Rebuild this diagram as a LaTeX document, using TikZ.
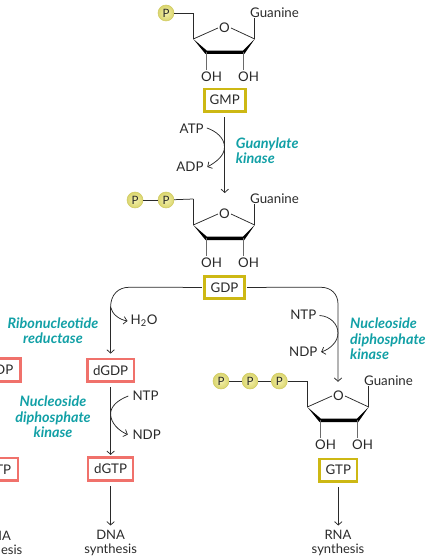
\documentclass[tikz,border=0pt]{standalone}
\usepackage{fontspec}
\setmainfont{Lato}
\usetikzlibrary{arrows.meta}
\definecolor{boxyellow}{HTML}{CDB814}
\definecolor{boxred}{HTML}{F0716B}
\definecolor{teal1}{HTML}{12A0A6}
\definecolor{ink}{HTML}{2A2A2A}
\definecolor{ballin}{HTML}{F4F1AC}
\definecolor{ballout}{HTML}{DAD56E}
\definecolor{ballrim}{HTML}{CFC95F}
\tikzset{
  every node/.style={text=ink,font=\fontsize{13.3}{15}\selectfont,inner sep=0pt},
  ln/.style={draw=ink,line width=0.75pt},
  arr/.style={ln,-{Straight Barb[length=3.4pt,width=7.5pt,line width=0.75pt]}},
  ybox/.style={draw=boxyellow,line width=2.6pt,fill=white,minimum height=22.4pt},
  rbox/.style={draw=boxred,line width=2.6pt,fill=white,minimum height=22.6pt},
  enz/.style={text=teal1,font=\fontsize{14.4}{15.4}\selectfont\bfseries\itshape,align=center},
  enzl/.style={enz,align=left,anchor=west},
  phos/.style={circle,minimum size=16pt,draw=ballrim,line width=0.5pt,inner color=ballin,outer color=ballout,font=\fontsize{11.5}{12}\selectfont},
  lab/.style={align=center,font=\fontsize{13}{14}\selectfont},
}
% #1 prefix, #2 dx, #3 dy
\newcommand{\sugar}[3]{%
  \begin{scope}[shift={(#2,#3)}]
    \node (#1O) at (224.5,28) {O};
    \coordinate (#1L) at (193.3,39);
    \coordinate (#1R) at (254.7,39);
    \coordinate (#1BL) at (206.5,52.3);
    \coordinate (#1BR) at (243.3,52.3);
    \coordinate (#1T) at (193.3,13);
    \node[anchor=west] (#1G) at (250,12.5) {Guanine};
    \node (#1OH1) at (211.5,77) {OH};
    \node (#1OH2) at (248.5,77) {OH};
    \draw[ln] (#1L) -- ([xshift=-1pt]#1O.west);
    \draw[ln] ([xshift=1pt]#1O.east) -- (#1R);
    \draw[ln] (#1L) -- (#1T);
    \draw[ln] (#1R) -- (254.7,18);
    \fill[black] (#1L) -- (205.5,54) -- (244.3,54) -- (#1R) -- (243,50.6) -- (206.8,50.6) -- cycle;
    \draw[ln,draw=ink!70] (#1BL) -- (206.5,70);
    \draw[ln,draw=ink!70] (#1BR) -- (243.3,70);
  \end{scope}}
\begin{document}
\begin{tikzpicture}[x=1pt,y=-1pt]
\useasboundingbox (0,0) rectangle (430,559);
% GMP
\sugar{a}{0}{0}
\node[phos] (p1) at (166,13) {P};
\draw[ln] (p1) -- (aT);
\node[ybox,minimum width=41pt] (gmp) at (224.75,100.2) {GMP};
\node (atp) at (191.7,129) {ATP};
\node (adp) at (190,167) {ADP};
\coordinate (e1) at (224.75,193);
\draw[arr,shorten <=4.5pt] (gmp.south) -- (e1);
\draw[arr] ([xshift=3pt,yshift=1pt]atp.east) .. controls (216,131) and (224.5,138) .. (224.5,147) .. controls (224.5,156) and (216,162) .. ([xshift=3.5pt]adp.east);
\node[enzl] (gk) at (235.7,150.5) {Guanylate\\kinase};
% GDP
\sugar{b}{0}{186}
\node[phos] (p2) at (135,200) {P};
\node[phos] (p3) at (166,200) {P};
\draw[ln] (p2) -- (p3);
\draw[ln] (p3) -- (bT);
\node[ybox,minimum width=39.8pt] (gdp) at (224.5,287.4) {GDP};
% left branch
\node[rbox,minimum width=46.8pt] (dgdp) at (110.6,370.2) {dGDP};
\node[rbox,minimum width=45pt] (dgtp) at (110.6,469) {dGTP};
\node (h2o) [anchor=west] at (130.5,321) {H\textsubscript{2}O};
\coordinate (bl) at (110.6,307);
\draw[arr,shorten <=1.5pt,shorten >=4pt] (gdp.west) -- (129,287.3) .. controls (118,287.3) and (110.6,295) .. (bl) -- (dgdp.north);
\draw[arr] (bl) .. controls (112,314) and (119,319.5) .. ([xshift=-3pt]h2o.west);
\node[enz] (rr) at (53,331) {Ribonucleotide\\reductase};
\node[anchor=west] (ntp1) at (132.3,396) {NTP};
\node[anchor=west] (ndp1) at (132.3,434.5) {NDP};
\draw[arr,shorten <=4.5pt,shorten >=1.5pt] (dgdp.south) -- (dgtp.north);
\draw[arr] ([xshift=-4pt]ntp1.west) .. controls (118,400) and (110.6,406) .. (110.6,414) .. controls (110.6,423) and (119,431) .. ([xshift=-4.5pt]ndp1.west);
\node[enz] (nk1) at (53,417) {Nucleoside\\diphosphate\\kinase};
\coordinate (e2) at (110.6,525.5);
\draw[arr,shorten <=4.5pt] (dgtp.south) -- (e2);
\node[lab] (dna) at (110.6,543) {DNA\\synthesis};
% far left, cut by the edge
\node[rbox,minimum width=40pt] (lb1) at (0.4,370) {};
\node[anchor=east] (lt1) at (13.5,370) {DP};
\node[rbox,minimum width=40pt] (lb2) at (-2,469.3) {};
\node[anchor=east] (lt2) at (11.3,469.3) {TP};
\node[anchor=east,font=\fontsize{13}{14}\selectfont] (lt3) at (11,536) {NA};
\node[anchor=east,font=\fontsize{13}{14}\selectfont] (lt4) at (22.5,550) {esis};
% right branch
\sugar{c}{114}{368}
\node[phos] (p4) at (221,381) {P};
\node[phos] (p5) at (250,381) {P};
\node[phos] (p6) at (279.3,381) {P};
\draw[ln] (p4) -- (p5);
\draw[ln] (p5) -- (p6);
\draw[ln] (p6) -- (cT);
\node[ybox,minimum width=37.4pt] (gtp) at (338.3,470.2) {GTP};
\coordinate (e3) at (338,381.8);
\draw[arr,shorten <=1.5pt] (gdp.east) -- (321,287.3) .. controls (331,287.3) and (338,294) .. (338,304) -- (e3);
\node (ntp2) at (303.3,314.5) {NTP};
\node (ndp2) at (303.3,352) {NDP};
\draw[arr] ([xshift=3pt,yshift=-1pt]ntp2.east) .. controls (330,316) and (338,324) .. (338,333) .. controls (338,342) and (330,349) .. ([xshift=3.5pt]ndp2.east);
\node[enzl] (nk2) at (350,339) {Nucleoside\\diphosphate\\kinase};
\coordinate (e4) at (338.3,525.5);
\draw[arr,shorten <=4.5pt] (gtp.south) -- (e4);
\node[lab] (rna) at (338,543) {RNA\\synthesis};
\end{tikzpicture}
\end{document}
